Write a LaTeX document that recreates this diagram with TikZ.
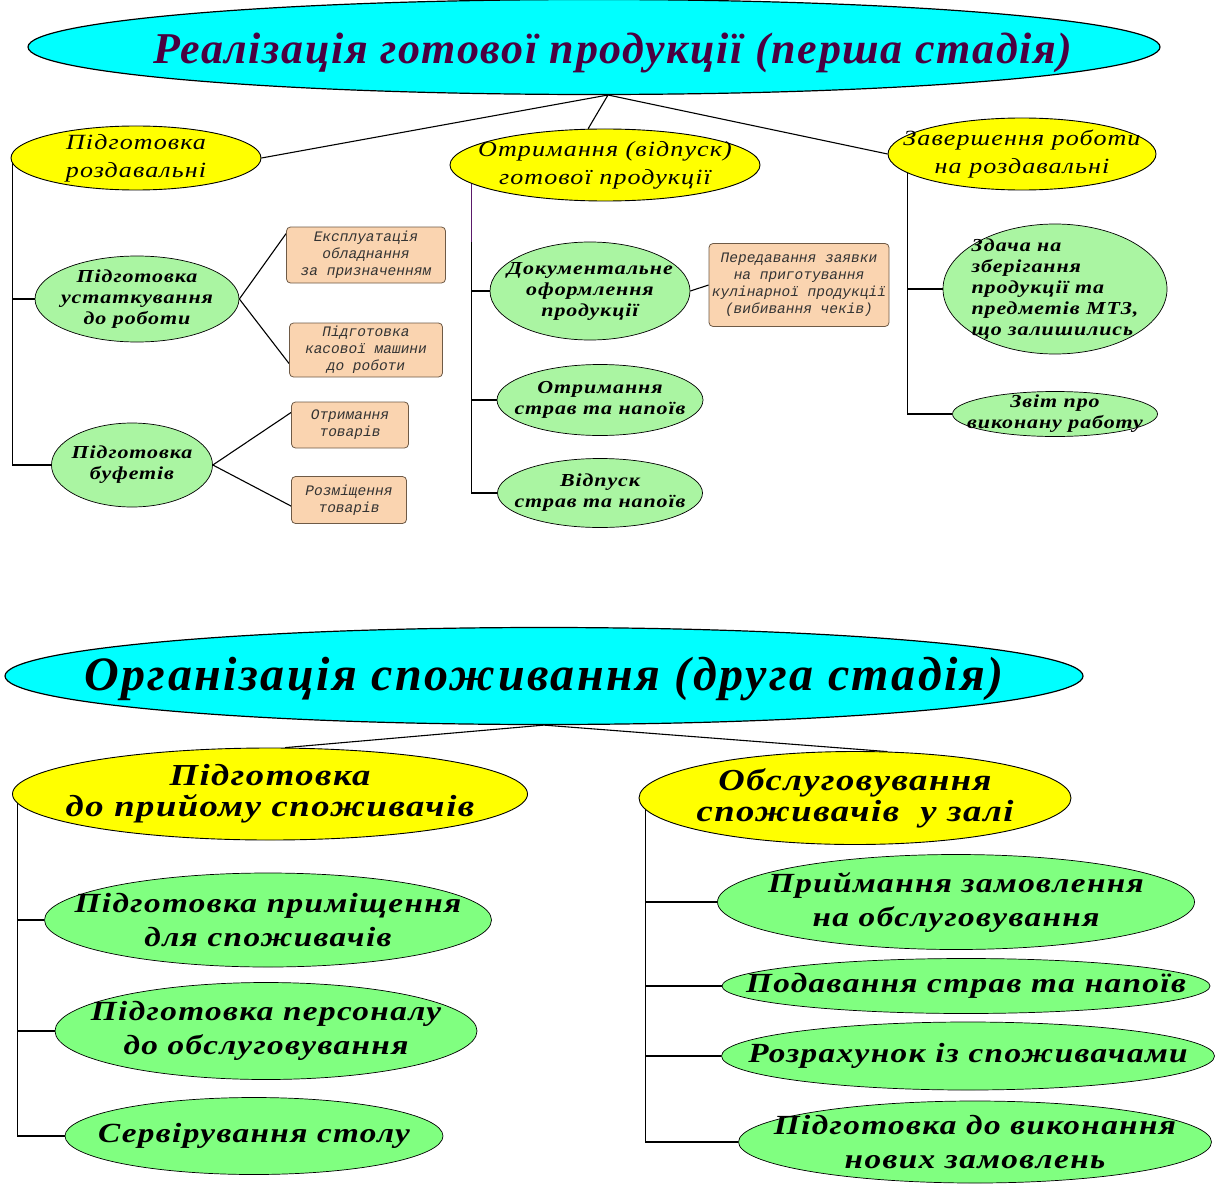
\documentclass[tikz,border=0pt]{standalone}
\usepackage{fontspec}
\setmainfont{Liberation Serif}
\newfontfamily\widefont[FakeStretch=1.2, LetterSpace=5]{Liberation Serif}
\newfontfamily\titlefont[LetterSpace=3.7]{Liberation Serif}
\newfontfamily\subtitlefont[LetterSpace=5.2]{Liberation Serif}
\newfontfamily\notefont{Liberation Mono}
\usetikzlibrary{shapes.geometric, backgrounds}
\definecolor{aqua}{HTML}{00FFFF}
\definecolor{lemon}{HTML}{FFFF00}
\definecolor{mint}{HTML}{AAF5A2}
\definecolor{lime}{HTML}{80FF80}
\definecolor{peach}{HTML}{FAD4B0}
\definecolor{plum}{HTML}{4A0040}
\definecolor{boxline}{HTML}{6E5A46}
\definecolor{violetline}{HTML}{5A1A6A}

\begin{document}
\begin{tikzpicture}[x=1pt, y=1pt,
  conn/.style={line width=1.1pt, draw=black},
  %% negative inner sep: the ellipse keeps exactly its minimum size
  stage/.style={
    ellipse, draw, line width=1.2pt, fill=aqua,
    inner sep=-400pt, align=center
  },
  part/.style={
    ellipse, draw, line width=0.9pt, fill=lemon,
    inner sep=-400pt, align=center,
    font=\widefont\itshape\fontsize{21.7}{28}\selectfont
  },
  bigpart/.style={
    part, font=\widefont\bfseries\itshape\fontsize{30.5}{31}\selectfont
  },
  task/.style={
    ellipse, draw, line width=0.7pt, fill=mint,
    inner sep=-400pt, align=center,
    font=\widefont\bfseries\itshape\fontsize{18.3}{21}\selectfont
  },
  bigtask/.style={
    task, fill=lime,
    font=\widefont\bfseries\itshape\fontsize{27.7}{34}\selectfont
  },
  note/.style={
    rectangle, rounded corners=4pt, draw=boxline, line width=0.8pt,
    fill=peach, inner sep=0pt, align=center, text=black!80,
    font=\notefont\itshape\fontsize{14.5}{17}\selectfont
  }
]
\useasboundingbox (0,0) rectangle (1222,-1185);

%% ─── FIRST STAGE ────────────────────────────────────────────────────────────
\node[stage, minimum width=1132, minimum height=95, text=plum,
      font=\titlefont\bfseries\itshape\fontsize{44}{48}\selectfont]
  (first) at (594,-47)
  {\raisebox{-6pt}[\height][\depth]{\hspace*{38pt}Реалізація готової продукції (перша стадія)}};

\node[part, minimum width=250, minimum height=64] (prep) at (136,-158)
  {Підготовка\\роздавальні};
\node[part, minimum width=310, minimum height=72] (issue) at (605,-165)
  {Отримання (відпуск)\\готової продукції};
\node[part, minimum width=268, minimum height=72] (finish) at (1022,-154)
  {Завершення роботи\\на роздавальні};

%% left branch: preparing the counter
\node[task, minimum width=204, minimum height=86] (equip) at (137,-299)
  {Підготовка\\устаткування\\до роботи};
\node[task, minimum width=161, minimum height=84] (buffet) at (132,-465)
  {Підготовка\\буфетів};

\node[note, minimum width=159, minimum height=56] (exploit) at (366,-255)
  {Експлуатація\\обладнання\\за призначенням};
\node[note, minimum width=153, minimum height=54] (till) at (366,-350)
  {Підготовка\\касової машини\\до роботи};
\node[note, minimum width=117, minimum height=46] (goods) at (350,-425)
  {Отримання\\товарів};
\node[note, minimum width=115, minimum height=47] (place) at (349,-500)
  {Розміщення\\товарів};

%% middle branch: issuing the products
\node[task, minimum width=200, minimum height=98] (docs) at (590,-291)
  {Документальне\\оформлення\\продукції};
\node[task, minimum width=206, minimum height=71] (receive) at (600,-400)
  {Отримання\\страв та напоїв};
\node[task, minimum width=205, minimum height=69] (release) at (600,-493)
  {Відпуск\\страв та напоїв};
\node[note, minimum width=180, minimum height=83] (order) at (799,-285)
  {Передавання заявки\\на приготування\\кулінарної продукції\\(вибивання чеків)};

%% right branch: closing the counter
\node[task, minimum width=224, minimum height=130, align=left] (store) at (1055,-289)
  {Здача на\\зберігання\\продукції та\\предметів МТЗ,\\що залишились};
\node[task, minimum width=205, minimum height=45] (report) at (1055,-414)
  {Звіт про\\виконану работу};

%% ─── SECOND STAGE ───────────────────────────────────────────────────────────
\node[stage, minimum width=1078, minimum height=97, text=black,
      font=\subtitlefont\bfseries\itshape\fontsize{48}{52}\selectfont]
  (second) at (544,-676)
  {\raisebox{-3pt}[\height][\depth]{Організація споживання (друга стадія)}};

\node[bigpart, minimum width=515, minimum height=92] (ready) at (270,-794)
  {Підготовка\\до прийому споживачів};
\node[bigpart, minimum width=432, minimum height=93] (serve) at (855,-798)
  {Обслуговування\\споживачів\ \ у залі};

\node[bigtask, minimum width=447, minimum height=94] (room) at (268,-920)
  {Підготовка приміщення\\для споживачів};
\node[bigtask, minimum width=422, minimum height=97] (staff) at (266,-1031)
  {Підготовка персоналу\\до обслуговування};
\node[bigtask, minimum width=378, minimum height=77] (table) at (254,-1136)
  {Сервірування столу};

\node[bigtask, minimum width=477, minimum height=95] (accept) at (956,-902)
  {Приймання замовлення\\на обслуговування};
\node[bigtask, minimum width=488, minimum height=55] (dishes) at (966,-986)
  {Подавання страв та напоїв};
\node[bigtask, minimum width=493, minimum height=68] (pay) at (968,-1056)
  {Розрахунок із споживачами};
\node[bigtask, minimum width=473, minimum height=82] (next) at (975,-1142)
  {Підготовка до виконання\\нових замовлень};

%% ─── CONNECTORS (behind the shapes) ─────────────────────────────────────────
\begin{scope}[on background layer]
  \coordinate (hub) at (608,-95);
  \draw[conn] (hub) -- (prep.east);
  \draw[conn] (hub) -- (issue.115);
  \draw[conn] (hub) -- (finish.west);

  %% left rail
  \draw[conn] ([xshift=2pt]prep.west) |- (buffet.west);
  \draw[conn] ([xshift=2pt]prep.west |- equip.west) -- (equip.west);
  \draw[conn] (equip.east) -- (exploit.165);
  \draw[conn] (equip.east) -- (till.190);
  \draw[conn] (buffet.east) -- (goods.168);
  \draw[conn] (buffet.east) -- (place.186);

  %% middle rail
  \draw[conn] ([xshift=22pt]issue.west) |- (release.west);
  \draw[line width=1.1pt, violetline] ([xshift=22pt]issue.west)
    -- ([xshift=22pt]issue.west |- docs.north);
  \draw[conn] ([xshift=22pt]issue.west |- docs.west) -- (docs.west);
  \draw[conn] ([xshift=22pt]issue.west |- receive.west) -- (receive.west);
  \draw[conn] (docs.east) -- (order.west);

  %% right rail
  \draw[conn] ([xshift=20pt]finish.west) |- (report.west);
  \draw[conn] ([xshift=20pt]finish.west |- store.west) -- (store.west);

  %% second stage
  \draw[conn] (second.south) -- (ready.72);
  \draw[conn] (second.south) -- (serve.55);
  \draw[conn] ([xshift=5pt]ready.west) |- (table.west);
  \draw[conn] ([xshift=5pt]ready.west |- room.west) -- (room.west);
  \draw[conn] ([xshift=5pt]ready.west |- staff.west) -- (staff.west);
  \draw[conn] ([xshift=7pt]serve.west) |- (next.west);
  \draw[conn] ([xshift=7pt]serve.west |- accept.west) -- (accept.west);
  \draw[conn] ([xshift=7pt]serve.west |- dishes.west) -- (dishes.west);
  \draw[conn] ([xshift=7pt]serve.west |- pay.west) -- (pay.west);
\end{scope}

\end{tikzpicture}
\end{document}
